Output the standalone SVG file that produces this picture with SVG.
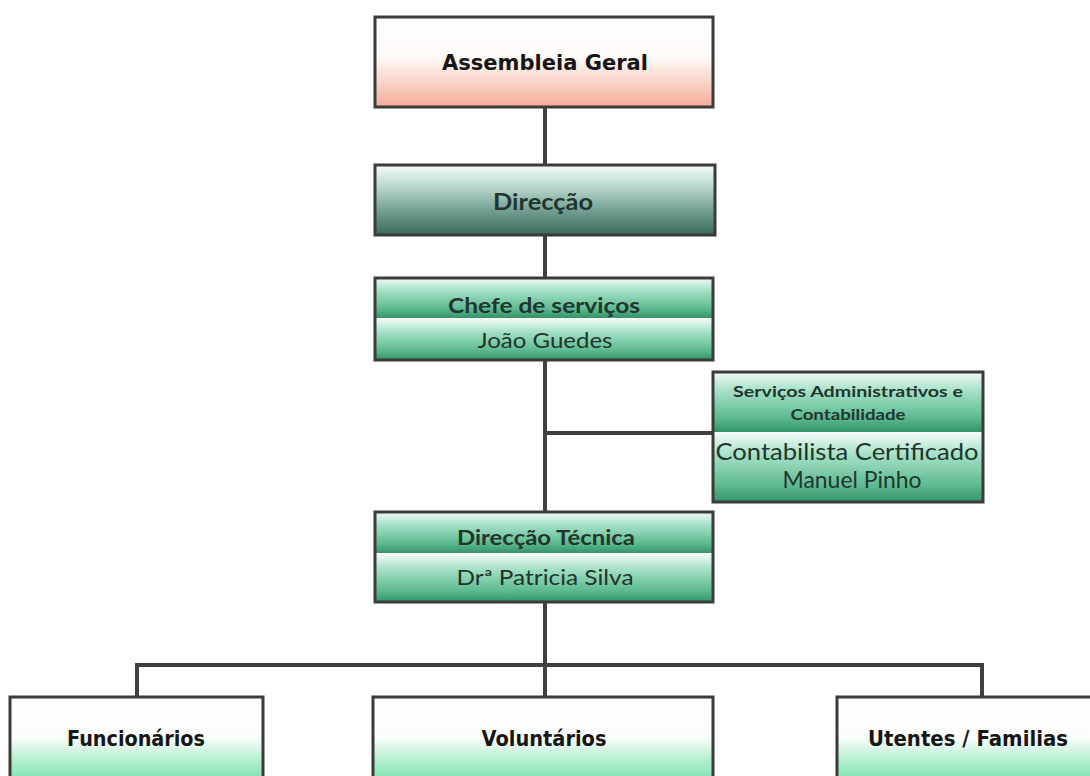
<svg xmlns="http://www.w3.org/2000/svg" width="1090" height="776" viewBox="0 0 1090 776">
<defs>
<linearGradient id="gPink" x1="0" y1="0" x2="0" y2="1">
<stop offset="0" stop-color="#ffffff"/>
<stop offset="0.45" stop-color="#fefaf8"/>
<stop offset="0.7" stop-color="#fad7cc"/>
<stop offset="1" stop-color="#f4ac9a"/>
</linearGradient>
<linearGradient id="gTeal" x1="0" y1="0" x2="0" y2="1">
<stop offset="0" stop-color="#f6fbf9"/>
<stop offset="0.3" stop-color="#bcdad0"/>
<stop offset="0.65" stop-color="#739f92"/>
<stop offset="1" stop-color="#3c6a5c"/>
</linearGradient>
<linearGradient id="gGreen" x1="0" y1="0" x2="0" y2="1">
<stop offset="0" stop-color="#f2fbf7"/>
<stop offset="0.3" stop-color="#a8e2c9"/>
<stop offset="0.75" stop-color="#5fbb93"/>
<stop offset="1" stop-color="#339467"/>
</linearGradient>
<linearGradient id="gLight" x1="0" y1="0" x2="0" y2="1">
<stop offset="0" stop-color="#ffffff"/>
<stop offset="0.5" stop-color="#fbfdfb"/>
<stop offset="0.75" stop-color="#b8f0d2"/>
<stop offset="1" stop-color="#84e4b4"/>
</linearGradient>
<style>
.box{stroke:#3b3b3b;stroke-width:3;fill:none}
.con{stroke:#404040;stroke-width:4;fill:none}
.v{font-family:"DejaVu Sans",Verdana,sans-serif;font-weight:bold;fill:#161616;text-anchor:middle}
.c{font-family:Lato,"Open Sans",sans-serif;fill:#22352e;text-anchor:middle}
.b{font-weight:bold}
</style>
</defs>

<g id="connectors">
<path class="con" d="M545 107V165M545 235V278M545 360V512M545 433H713M545 602V697M137 697V665H982V697"/>
</g>

<g id="assembleia">
<rect x="375" y="17" width="338" height="90" fill="url(#gPink)"/>
<rect class="box" x="375" y="17" width="338" height="90"/>
<text class="v" x="545" y="70" font-size="22" textLength="206" lengthAdjust="spacingAndGlyphs">Assembleia Geral</text>
</g>

<g id="direccao">
<rect x="375" y="165" width="340" height="70" fill="url(#gTeal)"/>
<rect class="box" x="375" y="165" width="340" height="70"/>
<text class="c b" x="543" y="210" font-size="22" fill="#26332f" textLength="100" lengthAdjust="spacingAndGlyphs">Direcção</text>
</g>

<g id="chefe">
<rect x="375" y="278" width="338" height="40" fill="url(#gGreen)"/>
<rect x="375" y="319" width="338" height="41" fill="url(#gGreen)"/>
<rect class="box" x="375" y="278" width="338" height="82"/>
<text class="c b" x="544" y="313" font-size="21" textLength="192" lengthAdjust="spacingAndGlyphs">Chefe de serviços</text>
<text class="c" x="545" y="348" font-size="21" textLength="135" lengthAdjust="spacingAndGlyphs">João Guedes</text>
</g>

<g id="servicos">
<rect x="713" y="372" width="270" height="60" fill="url(#gGreen)"/>
<rect x="713" y="433" width="270" height="69" fill="url(#gGreen)"/>
<rect class="box" x="713" y="372" width="270" height="130"/>
<text class="c b" x="848" y="397" font-size="15" textLength="230" lengthAdjust="spacingAndGlyphs">Serviços Administrativos e</text>
<text class="c b" x="848" y="420" font-size="15" textLength="115" lengthAdjust="spacingAndGlyphs">Contabilidade</text>
<text class="c" x="847" y="460" font-size="23" textLength="263" lengthAdjust="spacingAndGlyphs">Contabilista Certificado</text>
<text class="c" x="852" y="488" font-size="23" textLength="139" lengthAdjust="spacingAndGlyphs">Manuel Pinho</text>
</g>

<g id="direccao-tecnica">
<rect x="375" y="512" width="338" height="41" fill="url(#gGreen)"/>
<rect x="375" y="554" width="338" height="48" fill="url(#gGreen)"/>
<rect class="box" x="375" y="512" width="338" height="90"/>
<text class="c b" x="546" y="545" font-size="21" textLength="178" lengthAdjust="spacingAndGlyphs">Direcção Técnica</text>
<text class="c" x="545" y="585" font-size="21" textLength="177" lengthAdjust="spacingAndGlyphs">Drª Patricia Silva</text>
</g>

<g id="funcionarios">
<rect x="10" y="697" width="253" height="82" fill="url(#gLight)"/>
<path class="box" d="M10 779V697H263V779"/>
<text class="v" x="136" y="746" font-size="21" textLength="138" lengthAdjust="spacingAndGlyphs">Funcionários</text>
</g>

<g id="voluntarios">
<rect x="373" y="697" width="340" height="82" fill="url(#gLight)"/>
<path class="box" d="M373 779V697H713V779"/>
<text class="v" x="544" y="746" font-size="21" textLength="125" lengthAdjust="spacingAndGlyphs">Voluntários</text>
</g>

<g id="utentes">
<rect x="837" y="697" width="260" height="82" fill="url(#gLight)"/>
<path class="box" d="M837 779V697H1095"/>
<text class="v" x="968" y="746" font-size="21" textLength="200" lengthAdjust="spacingAndGlyphs">Utentes / Familias</text>
</g>
</svg>
